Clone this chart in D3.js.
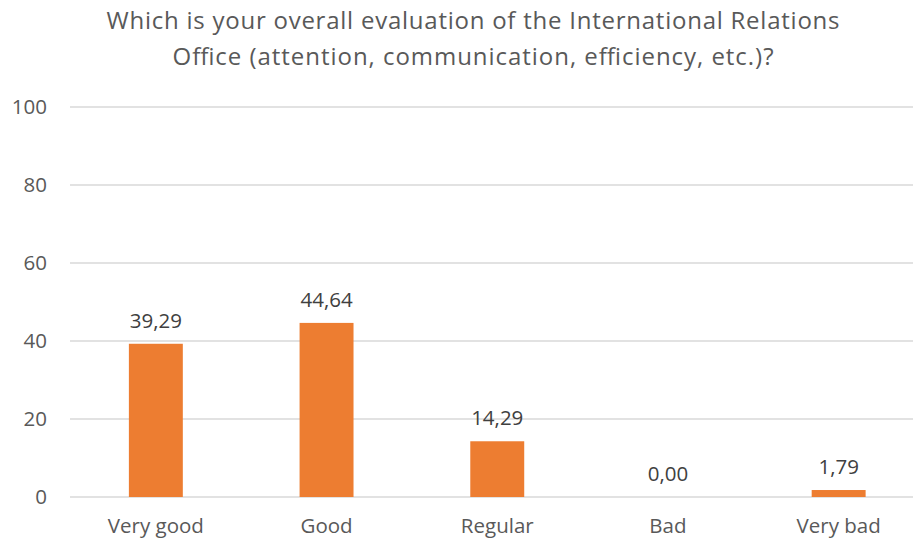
<!DOCTYPE html>
<html><head><meta charset="utf-8">
<script src="https://cdn.jsdelivr.net/npm/d3@7"></script>
<style>body{margin:0;background:#fff}svg{display:block}</style>
</head><body>
<script>
const categories = ["Very good","Good","Regular","Bad","Very bad"];
const values = [39.29,44.64,14.29,0.00,1.79];
const yTicks = [0,20,40,60,80,100];
const titleLines = ["Which is your overall evaluation of the International Relations","Office (attention, communication, efficiency, etc.)?"];

const W=913,H=542;
const svg=d3.select("body").append("svg").attr("width",W).attr("height",H);
const font="'Open Sans', Lato, sans-serif";
const x=d3.scaleBand().domain(categories).range([70.5,924]).padding(0);
const y=d3.scaleLinear().domain([0,100]).range([497,107]);
const bw=x.bandwidth()*0.316;

svg.append("g").selectAll("line").data(yTicks).join("line")
 .attr("x1",70).attr("x2",W).attr("y1",d=>y(d)).attr("y2",d=>y(d))
 .attr("stroke","#d9d9d9").attr("stroke-width",1.3);

const yAxis=d3.axisLeft(y).tickValues(yTicks).tickSize(0).tickPadding(0);
const gy=svg.append("g").attr("transform","translate(47,0)").call(yAxis);
gy.select(".domain").remove();
gy.selectAll("text").attr("font-family",font).attr("font-size",20.5).attr("fill","#595959");

svg.append("g").selectAll("rect").data(values).join("rect")
 .attr("x",(d,i)=>x(categories[i])+x.bandwidth()/2-bw/2)
 .attr("y",d=>y(d)).attr("width",bw).attr("height",d=>y(0)-y(d))
 .attr("fill","#ed7d31");

svg.append("g").selectAll("text").data(values).join("text")
 .attr("x",(d,i)=>x(categories[i])+x.bandwidth()/2)
 .attr("y",d=>y(d)-16).attr("text-anchor","middle")
 .attr("font-family",font).attr("font-size",20.5).attr("fill","#404040")
 .text(d=>d.toFixed(2).replace(".",","));

const xAxis=d3.axisBottom(x).tickSize(0).tickPadding(0);
const gx=svg.append("g").attr("transform","translate(0,533)").call(xAxis);
gx.select(".domain").remove();
gx.selectAll("text").attr("font-family",font).attr("font-size",20.5).attr("fill","#595959").attr("dy","0");

const titleWidths=[733,601];
svg.append("g").selectAll("text").data(titleLines).join("text")
 .attr("x",473).attr("y",(d,i)=>29+i*36).attr("text-anchor","middle")
 .attr("font-family",font).attr("font-size",24).attr("fill","#595959")
 .attr("textLength",(d,i)=>titleWidths[i]).attr("lengthAdjust","spacing")
 .text(d=>d);
</script>
</body></html>
